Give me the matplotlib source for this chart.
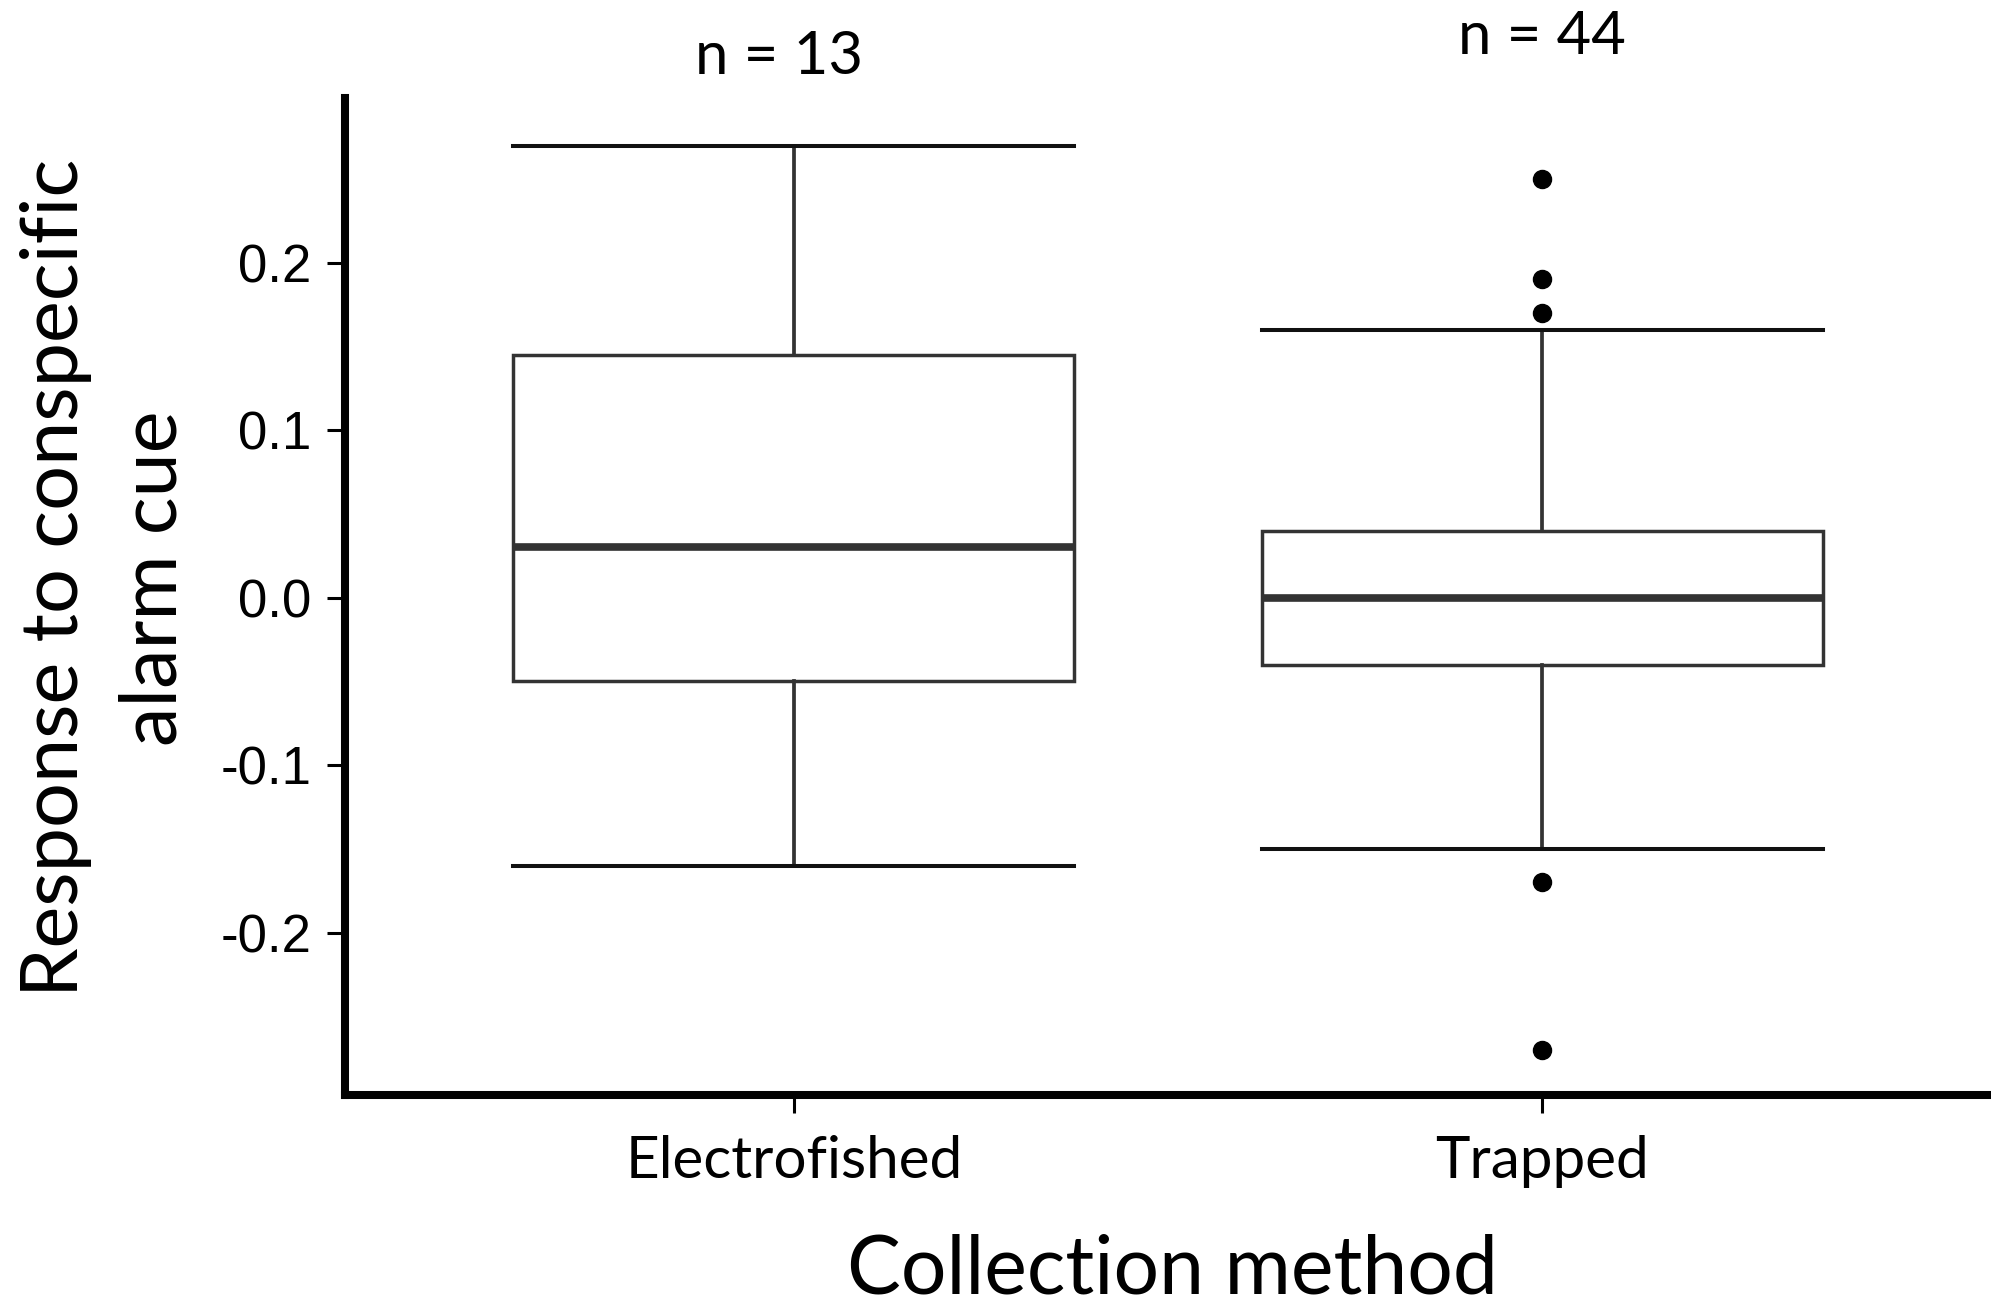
import matplotlib
matplotlib.use("Agg")
import matplotlib.pyplot as plt

# ---- data ----
categories = ["Electrofished", "Trapped"]
whisker_low = [-0.16, -0.15]
q1 = [-0.05, -0.04]
median = [0.03, 0.0]
q3 = [0.145, 0.04]
whisker_high = [0.27, 0.16]
outliers = [[], [0.25, 0.19, 0.17, -0.17, -0.27]]
n_labels = ["n = 13", "n = 44"]
n_label_y = [0.323, 0.335]
y_ticks = [-0.2, -0.1, 0.0, 0.1, 0.2]
y_tick_labels = ["-0.2", "-0.1", "0.0", "0.1", "0.2"]
x_title = "Collection method"
y_title = "Response to conspecific\nalarm cue"

label_font = "Lato"
tick_font = "Liberation Sans"

W, H, DPI = 1991, 1308, 100
fig = plt.figure(figsize=(W / DPI, H / DPI), dpi=DPI)
ax = fig.add_axes([345 / W, 1 - 1095 / H, 1 - 345 / W, (1095 - 97.8) / H])

positions = list(range(1, len(categories) + 1))
stats = []
for i, cat in enumerate(categories):
    stats.append(dict(label=cat, whislo=whisker_low[i], q1=q1[i], med=median[i],
                      q3=q3[i], whishi=whisker_high[i], fliers=outliers[i]))

box_color = "#333333"
ax.bxp(stats, positions=positions, widths=0.75, capwidths=0.75,
       showfliers=True, patch_artist=True,
       boxprops=dict(facecolor="white", edgecolor=box_color, linewidth=2.5),
       medianprops=dict(color=box_color, linewidth=5.5, solid_capstyle="butt"),
       whiskerprops=dict(color=box_color, linewidth=2.7),
       capprops=dict(color="#111111", linewidth=2.9),
       flierprops=dict(marker="o", markerfacecolor="black", markeredgecolor="black",
                       markersize=13, linestyle="none"))

ax.set_xlim(0.4, 2.6)
ax.set_ylim(-0.297, 0.2985)

for s in ["top", "right"]:
    ax.spines[s].set_visible(False)
for s in ["left", "bottom"]:
    ax.spines[s].set_linewidth(5.8)
    ax.spines[s].set_color("black")

ax.set_yticks(y_ticks)
ax.set_yticklabels(y_tick_labels, fontfamily=tick_font, fontsize=38)
ax.set_xticks(positions)
ax.set_xticklabels(categories, fontfamily=label_font, fontsize=42)
ax.tick_params(axis="both", length=13, width=2.2, color="black")
ax.tick_params(axis="y", pad=11)
ax.tick_params(axis="x", pad=16)

for i, lab in enumerate(n_labels):
    xpos = positions[i] - (0.02 if i == 0 else 0.0)
    ax.text(xpos, n_label_y[i], lab, ha="center", va="center", fontsize=43,
            fontfamily=label_font, clip_on=False)

fig.text(1172 / W, 1 - 1270 / H, x_title, ha="center", va="center",
         fontsize=58, fontfamily=label_font)
fig.text(105 / W, 1 - 578 / H, y_title, ha="center", va="center", rotation=90,
         multialignment="center", fontsize=57, fontfamily=label_font, linespacing=1.45)

fig.savefig("out.png", dpi=DPI)
